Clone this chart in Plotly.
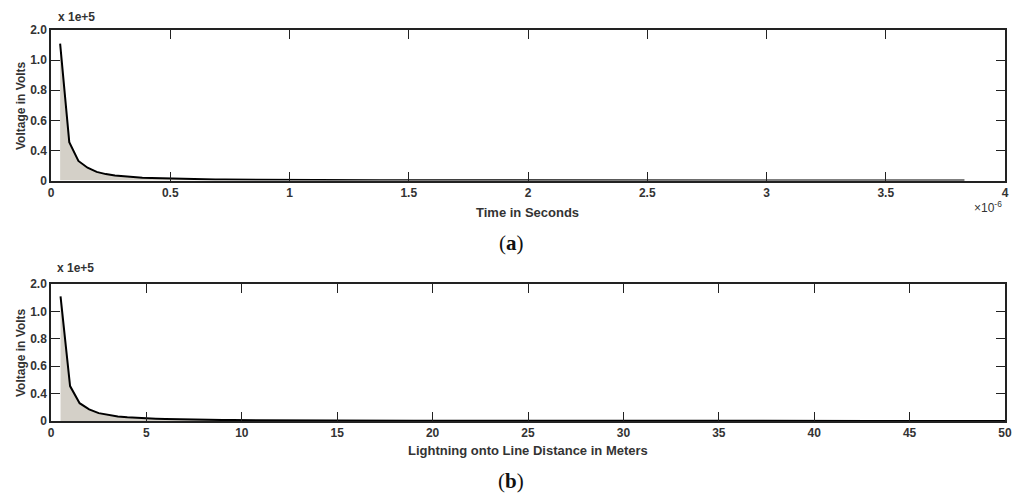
import plotly.graph_objects as go

# ---------------- data ----------------
# strike distance (m) for each computed point
distance_m = [0.5 * i for i in range(1, 101)]
# corresponding time (s)
time_s = [d * 7.66e-8 for d in distance_m]
# induced voltage in units of 1e5 V
voltage_e5 = [
    1.82, 0.51, 0.26, 0.17, 0.115, 0.085, 0.066, 0.053, 0.044, 0.037,
    0.032, 0.028, 0.024, 0.021, 0.019, 0.017, 0.015, 0.014, 0.013, 0.012,
    0.011, 0.010, 0.0094, 0.0088, 0.0082, 0.0077, 0.0072, 0.0068, 0.0064, 0.0060,
    0.0057, 0.0054, 0.0051, 0.0049, 0.0046, 0.0044, 0.0042, 0.0040, 0.0039, 0.0037,
    0.0036, 0.0034, 0.0033, 0.0032, 0.0031, 0.0030, 0.0029, 0.0028, 0.0027, 0.0026,
    0.0025, 0.0025, 0.0024, 0.0023, 0.0023, 0.0022, 0.0021, 0.0021, 0.0020, 0.0020,
    0.0019, 0.0019, 0.0018, 0.0018, 0.0017, 0.0017, 0.0017, 0.0016, 0.0016, 0.0015,
    0.0015, 0.0015, 0.0014, 0.0014, 0.0014, 0.0013, 0.0013, 0.0013, 0.0013, 0.0012,
    0.0012, 0.0012, 0.0012, 0.0011, 0.0011, 0.0011, 0.0011, 0.0010, 0.0010, 0.0010,
    0.0010, 0.0010, 0.0009, 0.0009, 0.0009, 0.0009, 0.0009, 0.0009, 0.0008, 0.0008,
]

y_tickvals = [0, 0.4, 0.8, 1.2, 1.6, 2.0]
y_ticktext = ["0", "0.4", "0.6", "0.8", "1.0", "2.0"]
xa_tickvals = [0, 0.5e-6, 1e-6, 1.5e-6, 2e-6, 2.5e-6, 3e-6, 3.5e-6, 4e-6]
xa_ticktext = ["0", "0.5", "1", "1.5", "2", "2.5", "3", "3.5", "4"]
xb_tickvals = [0, 5, 10, 15, 20, 25, 30, 35, 40, 45, 50]
xb_ticktext = [str(v) for v in xb_tickvals]

# ---------------- figure ----------------
W, H = 1024, 495
ML, MR, MT, MB = 51, 19, 30, 74
PW, PH = W - ML - MR, H - MT - MB


def px(xp):
    return (xp - ML) / PW


def py(yp):
    return (H - MB - yp) / PH


FILL = "#d4d0c8"
INK = "#222222"
TXT = "#333333"
FONT = "Liberation Sans"

fig = go.Figure()
fig.add_trace(go.Scatter(x=time_s, y=voltage_e5, mode="lines", fill="tozeroy",
                         fillcolor=FILL, line=dict(color="black", width=2),
                         xaxis="x", yaxis="y", showlegend=False))
fig.add_trace(go.Scatter(x=distance_m, y=voltage_e5, mode="lines", fill="tozeroy",
                         fillcolor=FILL, line=dict(color="black", width=2),
                         xaxis="x2", yaxis="y2", showlegend=False))

axis_common = dict(showline=True, linecolor=INK, linewidth=1.5, mirror="ticks",
                   ticks="inside", ticklen=9, tickwidth=1.2, tickcolor=INK,
                   showgrid=False, zeroline=False, tickmode="array",
                   tickfont=dict(family=FONT, size=12, color=TXT, weight="bold"))

fig.update_layout(
    width=W, height=H,
    margin=dict(l=ML, r=MR, t=MT, b=MB),
    paper_bgcolor="white", plot_bgcolor="white",
    xaxis=dict(domain=[0, 1], anchor="y", range=[0, 4e-6],
               tickvals=xa_tickvals, ticktext=xa_ticktext, **axis_common),
    yaxis=dict(domain=[py(180.5), 1], anchor="x", range=[0, 2.0],
               tickvals=y_tickvals, ticktext=y_ticktext, **axis_common),
    xaxis2=dict(domain=[0, 1], anchor="y2", range=[0, 50],
                tickvals=xb_tickvals, ticktext=xb_ticktext, **axis_common),
    yaxis2=dict(domain=[0, py(284)], anchor="x2", range=[0, 2.0],
                tickvals=y_tickvals, ticktext=y_ticktext, **axis_common),
)

bold = dict(family=FONT, size=12, color=TXT, weight="bold")
title_font = dict(family=FONT, size=13, color=TXT, weight="bold")
ann = []
# multiplier labels
ann.append(dict(x=px(56), y=py(17.5), text="x 1e+5", xanchor="left", yanchor="middle", font=bold))
ann.append(dict(x=px(55), y=py(268), text="x 1e+5", xanchor="left", yanchor="middle", font=bold))
# y axis titles
ann.append(dict(x=px(20.5), y=py(105.5), text="Voltage in Volts", textangle=-90,
                xanchor="center", yanchor="middle", font=bold))
ann.append(dict(x=px(20.5), y=py(352.5), text="Voltage in Volts", textangle=-90,
                xanchor="center", yanchor="middle", font=bold))
# x axis titles
ann.append(dict(x=px(527), y=py(212.5), text="Time in Seconds", xanchor="center",
                yanchor="middle", font=title_font))
ann.append(dict(x=px(528), y=py(450.5), text="Lightning onto Line Distance in Meters",
                xanchor="center", yanchor="middle", font=title_font))
# exponent
ann.append(dict(x=px(988), y=py(207), text="×10<sup>-6</sup>", xanchor="center",
                yanchor="middle", font=dict(family=FONT, size=12, color=TXT)))
# captions
cap = dict(family="Liberation Serif", size=21, color="#111111")
ann.append(dict(x=px(511), y=py(243), text="(<b>a</b>)", xanchor="center", yanchor="middle", font=cap))
ann.append(dict(x=px(511), y=py(481), text="(<b>b</b>)", xanchor="center", yanchor="middle",
                font=cap, borderpad=0))

for a in ann:
    a.update(xref="paper", yref="paper", showarrow=False)
fig.update_layout(annotations=ann)

fig.write_html("out.html")
